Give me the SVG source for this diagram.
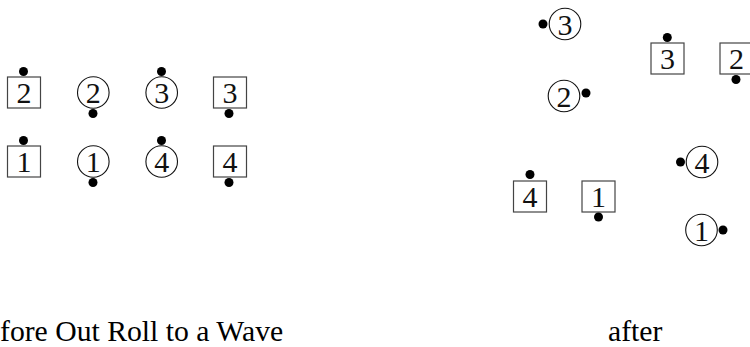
<svg xmlns="http://www.w3.org/2000/svg" width="750" height="347" viewBox="0 0 750 347">
<style>
.sq{fill:none;stroke:#444;stroke-width:1.2}
.ci{fill:none;stroke:#111;stroke-width:1.1}
.d{fill:#000}
.n{font-family:"Liberation Serif","Times New Roman",serif;font-size:30px;text-anchor:middle;fill:#111}
.cap{font-family:"Liberation Serif","Times New Roman",serif;font-size:29.7px;fill:#000}
</style>
<rect width="750" height="347" fill="#fff"/>
<g id="before">
<g id="b_sq2"><rect class="sq" x="7.5" y="77" width="33" height="31"/><text class="n" x="24" y="102.5">2</text><circle class="d" cx="23.5" cy="71.5" r="4.5"/></g>
<g id="b_c2"><circle class="ci" cx="93.3" cy="92.5" r="15.8"/><text class="n" x="93.3" y="103">2</text><circle class="d" cx="93" cy="113.5" r="4.5"/></g>
<g id="b_c3"><circle class="ci" cx="161.7" cy="92.5" r="15.8"/><text class="n" x="161.7" y="103">3</text><circle class="d" cx="161.5" cy="71.5" r="4.5"/></g>
<g id="b_sq3"><rect class="sq" x="213.5" y="77" width="33" height="31"/><text class="n" x="230" y="102.5">3</text><circle class="d" cx="229" cy="113.5" r="4.5"/></g>
<g id="b_sq1"><rect class="sq" x="7.5" y="146" width="33" height="31"/><text class="n" x="24" y="171.5">1</text><circle class="d" cx="23.5" cy="140.5" r="4.5"/></g>
<g id="b_c1"><circle class="ci" cx="93.3" cy="161.5" r="15.8"/><text class="n" x="93.3" y="172">1</text><circle class="d" cx="93" cy="182.5" r="4.5"/></g>
<g id="b_c4"><circle class="ci" cx="161.7" cy="161.5" r="15.8"/><text class="n" x="161.7" y="172">4</text><circle class="d" cx="161.5" cy="140.5" r="4.5"/></g>
<g id="b_sq4"><rect class="sq" x="213.5" y="146" width="33" height="31"/><text class="n" x="230" y="171.5">4</text><circle class="d" cx="229" cy="182.5" r="4.5"/></g>
</g>
<g id="after">
<g id="a_c3"><circle class="ci" cx="565" cy="24" r="15.8"/><text class="n" x="565" y="34.5">3</text><circle class="d" cx="543" cy="24" r="4.5"/></g>
<g id="a_sq3"><rect class="sq" x="651" y="43" width="33" height="31"/><text class="n" x="667.5" y="68.5">3</text><circle class="d" cx="667.3" cy="37.5" r="4.5"/></g>
<g id="a_sq2"><rect class="sq" x="720" y="43" width="33" height="31"/><text class="n" x="736.5" y="68.5">2</text><circle class="d" cx="736" cy="79.5" r="4.5"/></g>
<g id="a_c2"><circle class="ci" cx="564" cy="96" r="15.8"/><text class="n" x="564" y="106.5">2</text><circle class="d" cx="586" cy="93" r="4.5"/></g>
<g id="a_c4"><circle class="ci" cx="702" cy="162" r="15.8"/><text class="n" x="702" y="172.5">4</text><circle class="d" cx="680.5" cy="162" r="4.5"/></g>
<g id="a_sq4"><rect class="sq" x="513.5" y="181" width="33" height="31"/><text class="n" x="530" y="206.5">4</text><circle class="d" cx="530" cy="174.5" r="4.5"/></g>
<g id="a_sq1"><rect class="sq" x="582" y="181" width="33" height="31"/><text class="n" x="598.5" y="206.5">1</text><circle class="d" cx="598.5" cy="217" r="4.5"/></g>
<g id="a_c1"><circle class="ci" cx="701.5" cy="230" r="15.8"/><text class="n" x="701.5" y="240.5">1</text><circle class="d" cx="723" cy="230" r="4.5"/></g>
</g>
<g id="captions">
<text class="cap" x="0" y="341">fore Out Roll to a Wave</text>
<text class="cap" x="608" y="341">after</text>
</g>
</svg>
